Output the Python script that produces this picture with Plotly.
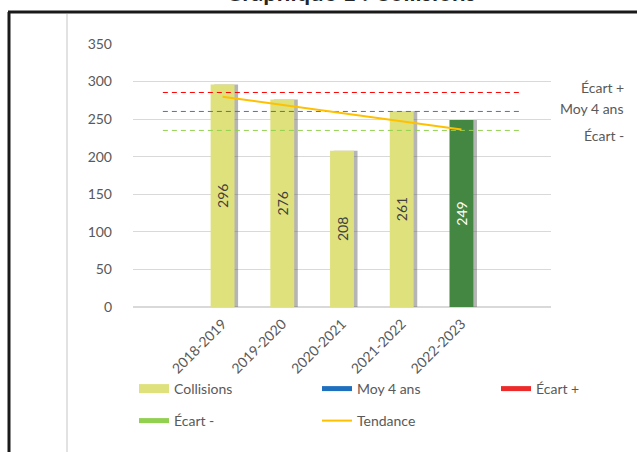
import plotly.graph_objects as go

# ---- data ----
seasons = ["2018-2019", "2019-2020", "2020-2021", "2021-2022", "2022-2023"]
collisions = [296, 276, 208, 261, 249]
moy_4_ans = 260.25
ecart_plus = 285.5
ecart_moins = 235
tendance = [279.8, 268.9, 258.0, 247.1, 236.2]
y_ticks = [0, 50, 100, 150, 200, 250, 300, 350]

# padded category axis (empty slot before and after)
categories = [""] + seasons + [" "]

FONT = "Lato"
GREY_TXT = "#595959"
BAR_COL = "#DFE17D"
LAST_COL = "#448743"

bar_colors = [BAR_COL] * (len(seasons) - 1) + [LAST_COL]
text_colors = ["#404040"] * (len(seasons) - 1) + ["white"]

fig = go.Figure()

# shadow of bars
fig.add_trace(go.Bar(
    x=seasons, y=collisions, width=0.4, offset=-0.14,
    marker=dict(color="rgba(90,90,90,0.45)", line=dict(width=0)),
    showlegend=False, hoverinfo="skip"))

# bars
fig.add_trace(go.Bar(
    x=seasons, y=collisions, width=0.4, offset=-0.2,
    marker=dict(color=bar_colors, line=dict(width=0)),
    text=[str(v) for v in collisions], textposition="inside",
    insidetextanchor="middle", textangle=-90,
    textfont=dict(family=FONT, size=14, color=text_colors),
    constraintext="none",
    showlegend=False, name="Collisions"))

# reference lines
span = [categories[0], categories[-1]]
for val, col in [(moy_4_ans, "#4472C4"), (ecart_plus, "#FF0000"), (ecart_moins, "#92D050")]:
    fig.add_trace(go.Scatter(x=span, y=[val, val], mode="lines",
                             line=dict(color=col, width=1, dash="5px,4px"),
                             showlegend=False, hoverinfo="skip"))

# trend
fig.add_trace(go.Scatter(x=seasons, y=tendance, mode="lines",
                         line=dict(color="#FFC000", width=2),
                         showlegend=False))

# legend entries
legend_items = [
    ("Collisions", BAR_COL, 9, "legend"),
    ("Moy 4 ans", "#1F6FBF", 5, "legend"),
    ("Écart +", "#EE2B2B", 5, "legend3"),
    ("Écart -", "#92D050", 5, "legend2"),
    ("Tendance", "#FFC000", 2, "legend2"),
]
for name, col, w, lg in legend_items:
    fig.add_trace(go.Scatter(x=[None], y=[None], mode="lines", name=name,
                             line=dict(color=col, width=w), legend=lg))

# right side labels
for label, val in [("Écart +", ecart_plus + 6.5), ("Moy 4 ans", moy_4_ans + 4), ("Écart -", ecart_moins - 6.5)]:
    fig.add_annotation(x=1.18, xref="paper", y=val, yref="y", text=label,
                       showarrow=False, xanchor="right",
                       font=dict(family=FONT, size=14, color=GREY_TXT))

# title (partly cut off at top, as in the source)
fig.add_annotation(x=(350 - 133) / 418, xref="paper", y=1 + 36 / 263, yref="paper",
                   text="<b>Graphique 1 : Collisions</b>", showarrow=False,
                   yanchor="bottom", font=dict(family=FONT, size=24, color="#262626"))

# frame
shapes = [
    dict(type="line", xref="paper", yref="paper", x0=-124 / 418, x1=-124 / 418,
         y0=1 + 32 / 263, y1=-145 / 263, line=dict(color="#1A1A1A", width=3)),
    dict(type="line", xref="paper", yref="paper", x0=-125 / 418, x1=504 / 418,
         y0=1 + 32 / 263, y1=1 + 32 / 263, line=dict(color="#1A1A1A", width=3)),
    dict(type="line", xref="paper", yref="paper", x0=-66 / 418, x1=-66 / 418,
         y0=1 + 30 / 263, y1=-145 / 263, line=dict(color="#D9D9D9", width=1.5)),
]

leg_common = dict(orientation="h", xref="container", yref="container",
                  xanchor="left", yanchor="middle", entrywidth=138,
                  font=dict(family=FONT, size=14, color=GREY_TXT),
                  bgcolor="rgba(0,0,0,0)", tracegroupgap=0)

fig.update_layout(
    width=637, height=452,
    margin=dict(l=133, r=86, t=44, b=145, autoexpand=False),
    paper_bgcolor="white", plot_bgcolor="white",
    barmode="overlay",
    font=dict(family=FONT, color=GREY_TXT),
    shapes=shapes,
    xaxis=dict(type="category", categoryorder="array", categoryarray=categories,
               range=[-0.5, len(categories) - 0.5], automargin=False,
               tickangle=-45, showgrid=False, zeroline=False, showline=False,
               ticks="", ticklabelstandoff=5,
               tickfont=dict(family=FONT, size=14, color=GREY_TXT)),
    yaxis=dict(range=[0, 350], tickvals=y_ticks, showgrid=True, gridcolor="#D9D9D9",
               gridwidth=1, zeroline=True, zerolinecolor="#D9D9D9", zerolinewidth=1.5,
               showline=False, ticks="", ticklabelstandoff=20, automargin=False,
               tickfont=dict(family=FONT, size=14, color=GREY_TXT)),
    legend=dict(x=134 / 637, y=1 - 389 / 452, **leg_common),
    legend2=dict(x=134 / 637, y=1 - 421 / 452, **leg_common),
    legend3=dict(x=496 / 637, y=1 - 389 / 452, **leg_common),
)

fig.write_html("out.html", config={"displayModeBar": False},
               post_script="document.body.style.margin='0';document.body.style.overflow='hidden';")
